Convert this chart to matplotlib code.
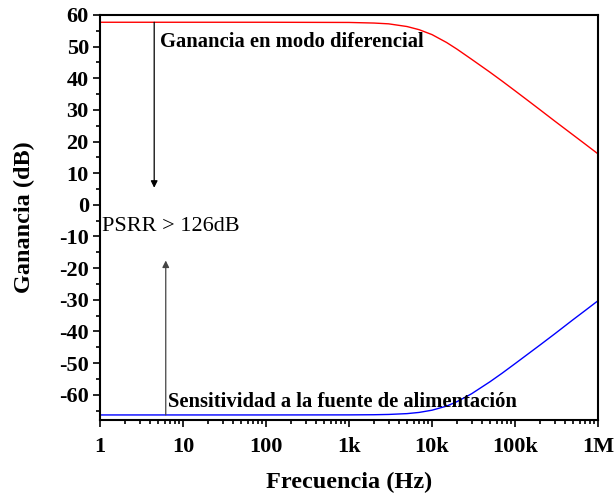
import numpy as np
import matplotlib
matplotlib.use("Agg")
import matplotlib.pyplot as plt
from matplotlib.ticker import FixedLocator, FixedFormatter, MultipleLocator

plt.rcParams['font.family'] = ['Liberation Serif', 'DejaVu Serif']
plt.rcParams['axes.unicode_minus'] = False

# frequency response (Hz, dB)
freq = [1, 10, 100, 1e3, 2e3, 3e3, 5e3, 7e3, 1e4, 1.5e4, 2e4, 3e4, 5e4, 7e4,
        1e5, 1.5e5, 2e5, 3e5, 5e5, 7e5, 1e6]
gain_dif = [57.7, 57.7, 57.7, 57.64, 57.45, 57.2, 56.35, 55.35, 53.8, 51.3,
            49.2, 46.0, 41.9, 39.1, 36.05, 32.55, 30.05, 26.5, 22.1, 19.2, 16.1]
gain_psrr = [-66.4, -66.4, -66.4, -66.38, -66.33, -66.24, -65.98, -65.6, -64.9,
             -63.6, -62.2, -59.7, -55.9, -53.2, -50.2, -46.75, -44.3, -40.8,
             -36.3, -33.4, -30.3]

xticks = [1, 10, 100, 1e3, 1e4, 1e5, 1e6]
xticklabels = ['1', '10', '100', '1k', '10k', '100k', '1M']
yticks = list(range(-60, 61, 10))

fig = plt.figure(figsize=(6.16, 4.96), dpi=100)
ax = fig.add_axes([0.1623, 0.1532, 0.8085, 0.8166])

ax.plot(freq, gain_dif, color='red', lw=1.0)
ax.plot(freq, gain_psrr, color='blue', lw=1.0)

ax.set_xscale('log')
ax.set_xlim(1, 1e6)
ax.set_ylim(-68, 60)

ax.xaxis.set_major_locator(FixedLocator(xticks))
ax.xaxis.set_major_formatter(FixedFormatter(xticklabels))
ax.yaxis.set_major_locator(FixedLocator(yticks))
ax.yaxis.set_minor_locator(MultipleLocator(5))

ax.tick_params(which='both', direction='out', top=False, right=False, width=1.2)
ax.tick_params(which='major', length=5, labelsize=16, pad=3)
ax.tick_params(axis='x', which='major', pad=7)
ax.tick_params(which='minor', length=3)
for lbl in ax.get_xticklabels() + ax.get_yticklabels():
    lbl.set_fontweight('bold')
for s in ax.spines.values():
    s.set_linewidth(1.5)

ax.set_xlabel('Frecuencia (Hz)', fontsize=17.5, fontweight='bold', labelpad=11)
ax.set_ylabel('Ganancia (dB)', fontsize=17.5, fontweight='bold', labelpad=17)

# PSRR arrows
ax.annotate('', xy=(4.5, 5.4), xytext=(4.5, gain_dif[0]),
            arrowprops=dict(arrowstyle='-|>', color='black', lw=0.9,
                            mutation_scale=10, shrinkA=0, shrinkB=0))
ax.annotate('', xy=(6.2, -17.6), xytext=(6.2, gain_psrr[0]),
            arrowprops=dict(arrowstyle='-|>', color='#444444', lw=0.9,
                            mutation_scale=10, shrinkA=0, shrinkB=0))

ax.text(5.3, 51.5, 'Ganancia en modo diferencial', fontsize=14.9,
        fontweight='bold', va='center', ha='left')
ax.text(1.07, -7.0, 'PSRR > 126dB', fontsize=16, va='center', ha='left')
ax.text(6.6, -62.2, 'Sensitividad a la fuente de alimentación', fontsize=14.9,
        fontweight='bold', va='center', ha='left')

fig.savefig('out.png', dpi=100)
